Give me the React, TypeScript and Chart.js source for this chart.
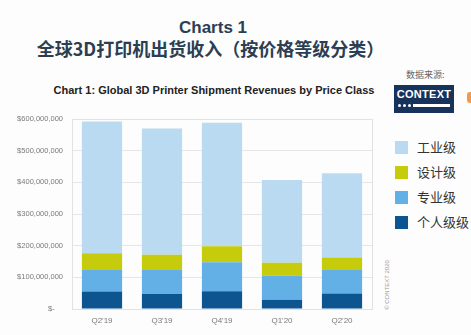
import React, { useEffect, useRef } from "react";
import { Chart, registerables } from "chart.js";

Chart.register(...registerables);

const categories = ["Q2'19", "Q3'19", "Q4'19", "Q1'20", "Q2'20"];
const personal = [55, 47, 56, 29, 49];
const professional = [68, 76, 92, 77, 74];
const design = [53, 48, 50, 40, 40];
const industrial = [416, 399, 390, 261, 266];
const M = 1000000;

const seriesNames = ["工业级", "设计级", "专业级", "个人级级"];
const colors = {
  industrial: "#badaf2",
  design: "#c6cb0b",
  professional: "#62b0e6",
  personal: "#0c5591",
};

const borderPlugin = {
  id: "plotBorder",
  afterDraw(chart: any) {
    const { ctx, chartArea } = chart;
    ctx.save();
    ctx.strokeStyle = "#e2e2e2";
    ctx.lineWidth = 1;
    ctx.strokeRect(
      Math.round(chartArea.left) + 0.5,
      Math.round(chartArea.top) + 0.5,
      Math.round(chartArea.right - chartArea.left),
      Math.round(chartArea.bottom - chartArea.top)
    );
    ctx.restore();
  },
};

function ChartCanvas() {
  const ref = useRef<HTMLCanvasElement>(null);
  useEffect(() => {
    if (!ref.current) return;
    const chart = new Chart(ref.current, {
      type: "bar",
      data: {
        labels: categories,
        datasets: [
          { label: seriesNames[3], data: personal.map((v) => v * M), backgroundColor: colors.personal },
          { label: seriesNames[2], data: professional.map((v) => v * M), backgroundColor: colors.professional },
          { label: seriesNames[1], data: design.map((v) => v * M), backgroundColor: colors.design },
          { label: seriesNames[0], data: industrial.map((v) => v * M), backgroundColor: colors.industrial },
        ],
      },
      options: {
        responsive: false,
        animation: false,
        layout: { padding: { top: 14, right: 8, left: 0, bottom: 0 } },
        plugins: { legend: { display: false }, tooltip: { enabled: false } },
        datasets: { bar: { categoryPercentage: 1, barPercentage: 0.67 } },
        scales: {
          x: {
            stacked: true,
            grid: { display: false, drawTicks: false },
            border: { display: false },
            ticks: {
              color: "#7a7a7a",
              font: { family: "Liberation Sans", size: 8 },
              padding: 7,
              maxRotation: 0,
            },
            afterFit: (s: any) => {
              s.height = 26;
            },
          },
          y: {
            stacked: true,
            min: 0,
            max: 600 * M,
            grid: { color: "#e6e6e6", drawTicks: false },
            border: { display: false },
            ticks: {
              stepSize: 100 * M,
              color: "#7a7a7a",
              font: { family: "Liberation Sans", size: 7.5 },
              padding: 9,
              callback: (v: any) =>
                Number(v) === 0 ? "$-    " : "$" + Number(v).toLocaleString("en-US"),
            },
            afterFit: (s: any) => {
              s.width = 72;
            },
          },
        },
      },
      plugins: [borderPlugin],
    });
    return () => chart.destroy();
  }, []);
  return (
    <canvas
      ref={ref}
      width={380}
      height={230}
      style={{ position: "absolute", left: 0, top: 105, width: 380, height: 230 }}
    />
  );
}

const legendItems = [
  { name: seriesNames[0], color: colors.industrial },
  { name: seriesNames[1], color: colors.design },
  { name: seriesNames[2], color: colors.professional },
  { name: seriesNames[3], color: colors.personal },
];

export default function App() {
  useEffect(() => {
    document.body.style.margin = "0";
  }, []);
  const cjk = '"Noto Sans CJK SC", "Noto Sans", sans-serif';
  return (
    <div
      style={{
        position: "fixed",
        left: 0,
        top: 0,
        width: 471,
        height: 335,
        background: "#fdfdfd",
        overflow: "hidden",
        fontFamily: "Liberation Sans, Arial, sans-serif",
      }}
    >
      <div
        style={{
          position: "absolute",
          left: 0,
          width: 426,
          top: 18,
          textAlign: "center",
          fontSize: 17,
          fontWeight: "bold",
          color: "#2c3e52",
          lineHeight: "20px",
        }}
      >
        Charts 1
      </div>
      <div
        style={{
          position: "absolute",
          left: 0,
          width: 421,
          top: 36,
          textAlign: "center",
          fontSize: 18,
          fontWeight: "bold",
          color: "#2c3e52",
          lineHeight: "24px",
          fontFamily: cjk,
          whiteSpace: "nowrap",
        }}
      >
        全球3D打印机出货收入（按价格等级分类）
      </div>
      <div
        style={{
          position: "absolute",
          left: 0,
          width: 428,
          top: 83,
          textAlign: "center",
          fontSize: 11,
          fontWeight: "bold",
          color: "#222",
          lineHeight: "14px",
          whiteSpace: "nowrap",
        }}
      >
        Chart 1: Global 3D Printer Shipment Revenues by Price Class
      </div>
      <div
        style={{
          position: "absolute",
          left: 406,
          top: 69,
          fontSize: 9,
          color: "#666",
          fontFamily: cjk,
          lineHeight: "12px",
          whiteSpace: "nowrap",
        }}
      >
        数据来源:
      </div>
      <div
        style={{
          position: "absolute",
          left: 394,
          top: 85,
          width: 60,
          height: 28,
          background: "#17335c",
        }}
      >
        <div
          style={{
            position: "absolute",
            left: 0,
            width: 60,
            top: 3,
            textAlign: "center",
            color: "#fff",
            fontWeight: "bold",
            fontSize: 11,
            letterSpacing: 0.3,
            lineHeight: "13px",
          }}
        >
          CONTEXT
        </div>
        {[5, 10, 15].map((x) => (
          <div
            key={x}
            style={{
              position: "absolute",
              left: x - 1,
              top: 19,
              width: 3,
              height: 3,
              borderRadius: 2,
              background: "#fff",
            }}
          />
        ))}
        <div
          style={{ position: "absolute", left: 19, top: 19, width: 37, height: 3, background: "#fff" }}
        />
      </div>
      <div
        style={{
          position: "absolute",
          left: 467,
          top: 92,
          width: 6,
          height: 11,
          borderRadius: 3,
          background: "#f39a4a",
        }}
      />
      {legendItems.map((it, i) => (
        <div
          key={it.name}
          style={{
            position: "absolute",
            left: 395,
            top: 140 + i * 25,
            height: 14,
            display: "flex",
            alignItems: "center",
            whiteSpace: "nowrap",
          }}
        >
          <div style={{ width: 13, height: 13, background: it.color }} />
          <span
            style={{
              marginLeft: 9,
              fontSize: 13,
              color: "#333",
              fontFamily: cjk,
              lineHeight: "14px",
            }}
          >
            {it.name}
          </span>
        </div>
      ))}
      <div
        style={{
          position: "absolute",
          left: 387,
          top: 285,
          transform: "translate(-50%, -50%) rotate(-90deg)",
          fontSize: 6,
          color: "#999",
          whiteSpace: "nowrap",
          lineHeight: "7px",
        }}
      >
        © CONTEXT 2020
      </div>
      <ChartCanvas />
    </div>
  );
}
